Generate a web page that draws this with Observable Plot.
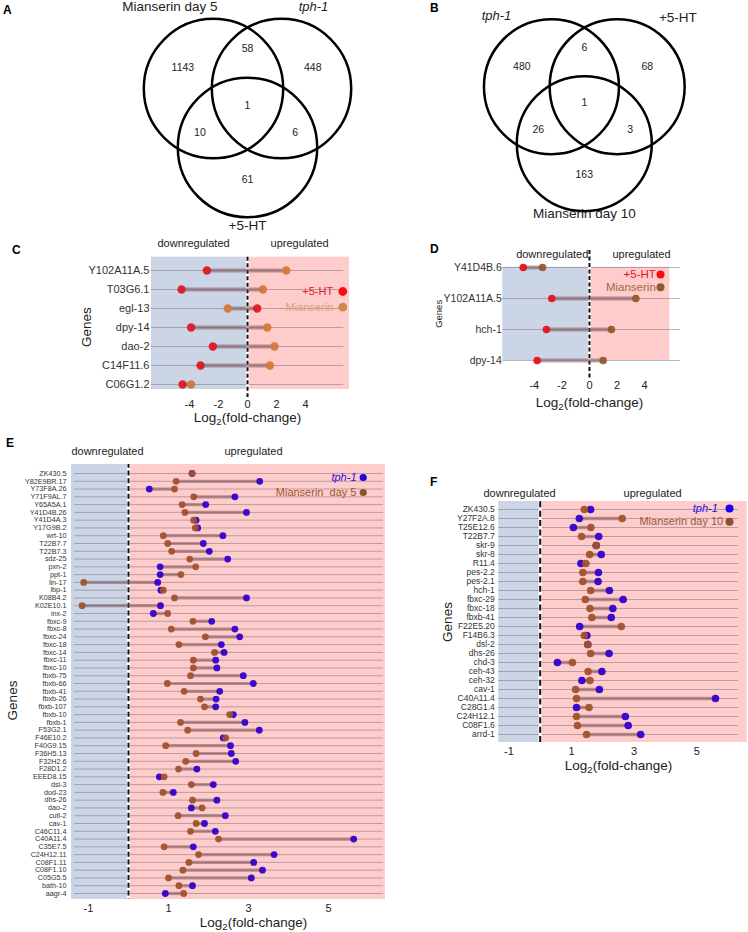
<!DOCTYPE html>
<html>
<head>
<meta charset="utf-8">
<script src="https://cdn.jsdelivr.net/npm/d3@7"></script>
<script src="https://cdn.jsdelivr.net/npm/@observablehq/plot@0.6"></script>
<style>
html,body{margin:0;padding:0;background:#fff;}
#fig{position:relative;width:748px;height:932px;overflow:hidden;background:#fff;}
#fig svg{position:absolute;overflow:visible;}
.letter{position:absolute;font-family:"Liberation Sans",Arial,sans-serif;font-weight:bold;font-size:12px;line-height:12px;color:#000;}
</style>
</head>
<body>
<div id="fig"></div>
<script>
// ---------------- DATA ----------------
// Venn A (regions: only1, 1&2, only2, all, 1&3, 2&3, only3)
const vennASets = ["Mianserin day 5", "tph-1", "+5-HT"];
const vennACounts = [1143, 58, 448, 1, 10, 6, 61];
// Venn B
const vennBSets = ["tph-1", "+5-HT", "Mianserin day 10"];
const vennBCounts = [480, 6, 68, 1, 26, 3, 163];

// Panel C
const genesC = ["Y102A11A.5", "T03G6.1", "egl-13", "dpy-14", "dao-2", "C14F11.6", "C06G1.2"];
const htC    = [-2.80, -4.55, 0.67, -3.89, -2.39, -3.24, -4.48];
const mianC  = [2.67, 1.06, -1.36, 1.36, 1.86, 1.54, -3.89];
const ticksC = [-4, -2, 0, 2, 4];

// Panel D
const genesD = ["Y41D4B.6", "Y102A11A.5", "hch-1", "dpy-14"];
const htD    = [-4.80, -2.73, -3.12, -3.79];
const mianD  = [-3.40, 3.36, 1.59, 0.99];
const ticksD = [-4, -2, 0, 2, 4];

// Panel E
const genesE = ["ZK430.5","Y82E9BR.17","Y73F8A.26","Y71F9AL.7","Y65A5A.1","Y41D4B.26","Y41D4A.3","Y17G9B.2","wrt-10","T22B7.7","T22B7.3","sdz-25","pxn-2","ppt-1","lin-17","lbp-1","K08B4.2","K02E10.1","inx-2","fbxc-9","fbxc-8","fbxc-24","fbxc-18","fbxc-14","fbxc-11","fbxc-10","fbxb-75","fbxb-66","fbxb-41","fbxb-26","fbxb-107","fbxb-10","fbxb-1","F53G2.1","F46E10.2","F40G9.15","F36H5.13","F32H2.6","F28D1.2","EEED8.15","dsl-3","dod-23","dhs-26","dao-2","cutl-2","cav-1","C46C11.4","C40A11.4","C35E7.5","C24H12.11","C08F1.11","C08F1.10","C05G5.5","bath-10","aagr-4"];
const tphE  = [1.59,3.28,0.52,2.66,1.93,2.95,1.69,1.73,2.36,1.87,2.02,2.48,0.79,0.79,0.73,0.81,2.95,0.80,0.62,2.08,2.66,2.78,2.32,2.39,2.18,2.21,2.87,3.12,2.28,2.19,2.18,2.62,2.91,3.27,2.37,2.55,2.57,2.68,1.71,0.77,2.12,1.12,2.21,1.57,2.42,1.90,2.17,5.63,1.62,3.64,3.13,3.35,3.07,1.60,0.92];
const mianE = [1.59,1.19,1.15,1.63,1.34,1.41,1.63,1.67,0.87,0.98,1.08,1.53,1.68,1.31,-1.12,0.87,1.15,-1.16,0.98,1.61,1.07,1.92,1.26,2.15,1.62,1.62,1.55,0.97,1.39,1.80,1.90,2.53,1.30,1.48,2.43,0.93,1.69,1.43,1.25,0.89,1.57,0.86,1.60,1.84,1.24,1.69,1.55,2.25,0.89,1.75,1.51,1.36,1.00,1.26,1.38];
const ticksE = [-1, 1, 3, 5];

// Panel F
const genesF = ["ZK430.5","Y27F2A.8","T25E12.6","T22B7.7","skr-9","skr-8","R11.4","pes-2.2","pes-2.1","hch-1","fbxc-29","fbxc-18","fbxb-41","F22E5.20","F14B6.3","dsl-2","dhs-26","chd-3","ceh-43","ceh-32","cav-1","C40A11.4","C28G1.4","C24H12.1","C08F1.6","arrd-1"];
const tphF  = [1.61,1.25,1.06,1.87,1.79,1.95,1.30,1.86,1.85,2.21,2.65,2.32,2.27,1.26,1.49,1.52,2.20,0.55,1.97,1.33,1.89,5.60,1.16,2.72,2.81,3.21];
const mianF = [1.41,2.62,1.62,1.32,1.79,1.58,1.46,1.36,1.36,1.61,1.44,1.59,1.65,2.59,1.41,1.52,1.61,1.03,1.53,1.59,1.13,1.16,1.56,1.16,1.19,1.48];
const ticksF = [-1, 1, 3, 5];

// ---------------- STYLE ----------------
const FONT = "'Liberation Sans', Arial, Helvetica, sans-serif";
const NARROW = "'Liberation Sans Narrow', 'Arial Narrow', 'Liberation Sans', sans-serif";
const BLUE_BG = "#ccd5e6";
const PINK_BG = "#ffcccc";
const fig = document.getElementById("fig");

function place(node, left, top) {
  node.style.left = left + "px";
  node.style.top = top + "px";
  fig.appendChild(node);
}

function fixSubscript(svg) {
  svg.querySelectorAll("text").forEach(t => {
    if (t.textContent === "Log2(fold-change)") {
      t.textContent = "";
      t.appendChild(document.createTextNode("Log"));
      const ns = "http://www.w3.org/2000/svg";
      const s = document.createElementNS(ns, "tspan");
      s.setAttribute("dy", "3"); s.setAttribute("font-size", "9.5"); s.textContent = "2";
      const r = document.createElementNS(ns, "tspan");
      r.setAttribute("dy", "-3"); r.textContent = "(fold-change)";
      t.appendChild(s); t.appendChild(r);
    }
  });
}

// Venn region anchors in units of the centre spacing, relative to centroid
const REGION_ANCHORS = [[-0.95,-0.60],[0,-0.88],[0.96,-0.60],[0,-0.04],[-0.70,0.36],[0.70,0.36],[0,1.05]];

function venn(v) {
  const h = v.s / (2 * Math.sqrt(3));
  const circles = [
    {x: v.cx - v.s / 2, y: v.cy - h},
    {x: v.cx + v.s / 2, y: v.cy - h},
    {x: v.cx, y: v.cy + 2 * h}
  ];
  const regions = REGION_ANCHORS.map((o, i) => ({x: v.cx + o[0] * v.s, y: v.cy + o[1] * v.s, n: v.counts[i]}));
  const labels = circles.map((c, i) => ({x: c.x + v.labelOff[i][0], y: c.y + v.labelOff[i][1], name: v.sets[i], italic: v.italic[i]}));
  const svg = Plot.plot({
    width: v.width, height: v.height, margin: 0,
    x: {type: "identity", axis: null}, y: {type: "identity", axis: null},
    style: {fontFamily: FONT, fontSize: "11px", background: "transparent", overflow: "visible"},
    marks: [
      Plot.dot(circles, {x: "x", y: "y", r: v.r, stroke: "#000", strokeWidth: 2.5, fill: "none"}),
      Plot.text(regions, {x: "x", y: "y", text: d => String(d.n), fontSize: 10.5, fill: "#222"}),
      Plot.text(labels.filter(d => !d.italic), {x: "x", y: "y", text: "name", fontSize: 13.5, fill: "#222"}),
      Plot.text(labels.filter(d => d.italic), {x: "x", y: "y", text: "name", fontSize: 13, fontStyle: "italic", fill: "#222"})
    ]
  });
  place(svg, v.left, v.top);
}

function dumbbell(c) {
  const rows = c.genes.map((g, i) => ({gene: g, a: c.a[i], b: c.b[i]}));
  const [x0, x1] = c.xDomain;
  const legendMarks = c.legend.flatMap(L => [
    Plot.dot([L], {x: null, y: null, frameAnchor: "top-right", dx: L.dx, dy: L.dy, r: c.r + 0.2, fill: L.dot}),
    Plot.text([L], {x: null, y: null, frameAnchor: "top-right", dx: L.tdx, dy: L.dy, text: d => d.text,
      textAnchor: "end", lineAnchor: "middle",
      fill: L.fill, fontSize: c.legendSize, fontStyle: L.italic ? "italic" : "normal"})
  ]);
  const svg = Plot.plot({
    width: c.width, height: c.height,
    marginTop: c.m[0], marginRight: c.m[1], marginBottom: c.m[2], marginLeft: c.m[3],
    x: {domain: c.xDomain, ticks: c.ticks, tickSize: 0, tickPadding: c.tickPad, tickFormat: d => String(d), label: null},
    y: {type: "point", domain: c.genes, range: c.rowRange, padding: 0, axis: null},
    style: {fontFamily: FONT, fontSize: c.tickSize + "px", color: "#222", background: "transparent", overflow: "visible"},
    marks: [
      Plot.rect([{lo: x0, hi: 0}], {x1: "lo", x2: "hi", fill: BLUE_BG}),
      Plot.rect([{lo: 0, hi: x1}], {x1: "lo", x2: "hi", fill: PINK_BG}),
      Plot.ruleY(c.genes, {y: d => d, x1: () => c.gridX[0], x2: () => c.gridX[1], stroke: "#707080", strokeOpacity: 0.5, strokeWidth: 1}),
      Plot.ruleX([0], {x: d => d, stroke: "#fff", strokeWidth: 3.2, insetTop: c.zeroInset[0], insetBottom: c.zeroInset[1]}),
      Plot.ruleX([0], {x: d => d, stroke: "#111", strokeWidth: 2, strokeDasharray: c.dash, strokeDashoffset: c.dashOffset || 0,
        insetTop: c.zeroInset[0], insetBottom: c.zeroInset[1]}),
      Plot.ruleY(rows, {y: "gene", x1: "a", x2: "b", stroke: "#764a50", strokeOpacity: 0.5, strokeWidth: c.segWidth}),
      Plot.dot(rows, {x: "a", y: "gene", r: c.r, fill: c.colorA, fillOpacity: 0.95}),
      Plot.dot(rows, {x: "b", y: "gene", r: c.r, fill: c.colorB, fillOpacity: 0.95}),
      Plot.text(c.genes, {x: null, y: d => d, text: d => d, frameAnchor: "left", dx: c.geneDx, textAnchor: "end", lineAnchor: "middle",
        fontSize: c.geneSize, fontFamily: c.geneFamily, fill: "#333"}),
      Plot.text(["downregulated", "upregulated"], {x: (d, i) => c.headerX[i], y: null, text: d => d, frameAnchor: "top",
        textAnchor: "middle", lineAnchor: "middle", dy: c.headerDy, fontSize: 11, fill: "#222"}),
      Plot.text(["Log2(fold-change)"], {x: null, y: null, text: d => d, frameAnchor: "bottom", textAnchor: "middle", lineAnchor: "middle",
        dx: c.axisLabel[0], dy: c.axisLabel[1], fontSize: 13.5, fill: "#222"}),
      Plot.text(["Genes"], {x: null, y: null, text: d => d, frameAnchor: "left", textAnchor: "middle", lineAnchor: "middle", rotate: -90,
        dx: c.genesLabel[0], dy: c.genesLabel[1], fontSize: c.genesLabel[2], fill: "#222"}),
      ...legendMarks
    ]
  });
  fixSubscript(svg);
  place(svg, c.left, c.top);
}

// ---------------- PANELS ----------------
venn({left: 0, top: 0, width: 370, height: 230, cx: 247, cy: 107.7, s: 68, r: 69.7,
  sets: vennASets, counts: vennACounts, italic: [false, true, false],
  labelOff: [[-43.7, -81.4], [32, -81.4], [0, 78]]});

venn({left: 370, top: 0, width: 378, height: 230, cx: 213.8, cy: 105.2, s: 65.7, r: 67.5,
  sets: vennBSets, counts: vennBCounts, italic: [true, false, false],
  labelOff: [[-55, -71.2], [60.7, -69.5], [0, 69.6]]});

dumbbell({left: 0, top: 230, width: 370, height: 200, m: [26.7, 21, 41, 151],
  xDomain: [-6.62, 7.03], rowRange: [38.7, 156], gridX: [-6.62, 6.64],
  genes: genesC, a: htC, b: mianC, colorA: "#dc1a24", colorB: "#d4783a",
  headerX: [-3.72, 3.59], headerDy: -13.7, ticks: ticksC, tickPad: 11, tickSize: 11,
  axisLabel: [-3, 27.7], genesLabel: [-65, 3.85, 13.5], geneDx: -2, geneSize: 11, geneFamily: FONT,
  zeroInset: [0, -8], dash: "4,2.5", r: 4.2, segWidth: 4, legendSize: 11,
  legend: [
    {text: "+5-HT", fill: "#e8141c", dot: "#ff0d0d", dx: -6.7, dy: 34.3, tdx: -16.3},
    {text: "Mianserin", fill: "#d9a36e", dot: "#c98c4a", dx: -6.7, dy: 50, tdx: -16.3}
  ]});

dumbbell({left: 370, top: 230, width: 378, height: 200, m: [36.7, 78.7, 70, 132.3],
  xDomain: [-6.28, 5.82], rowRange: [36.7, 130.7], gridX: [-6.28, 6.6],
  genes: genesD, a: htD, b: mianD, colorA: "#e3141e", colorB: "#93592b",
  headerX: [-2.7, 3.77], headerDy: -12.7, ticks: ticksD, tickPad: 21, tickSize: 11,
  axisLabel: [3.2, 42], genesLabel: [-64, 0, 9.5], geneDx: -1, geneSize: 10.5, geneFamily: FONT,
  zeroInset: [-16.7, -20], dash: "4,2.5", r: 3.8, segWidth: 4, legendSize: 11.5,
  legend: [
    {text: "+5-HT", fill: "#e8101c", dot: "#f20d0d", dx: -9.3, dy: 7.3, tdx: -14},
    {text: "Mianserin", fill: "#9b6a48", dot: "#8e5a2c", dx: -9.3, dy: 20, tdx: -14}
  ]});

dumbbell({left: 0, top: 430, width: 400, height: 502, m: [34, 15, 33, 71],
  xDomain: [-1.425, 6.425], rowRange: [43, 463], gridX: [-1.35, 6.375],
  genes: genesE, a: tphE, b: mianE, colorA: "#3300cc", colorB: "#a0522d",
  headerX: [-0.525, 3.125], headerDy: -13, ticks: ticksE, tickPad: 5, tickSize: 11,
  axisLabel: [25, 23], genesLabel: [-59, 18.5, 13.5], geneDx: -5, geneSize: 7.2, geneFamily: NARROW,
  zeroInset: [0, 0], dash: "5,2.78", dashOffset: 1.28, r: 3.4, segWidth: 3.2, legendSize: 11,
  legend: [
    {text: "tph-1", italic: true, fill: "#2b12d6", dot: "#2400d8", dx: -22.3, dy: 13, tdx: -29},
    {text: "Mianserin\u00a0 day 5", fill: "#9a5a32", dot: "#8c5128", dx: -22.3, dy: 28, tdx: -29}
  ]});

dumbbell({left: 400, top: 470, width: 348, height: 310, m: [31, 1.3, 38, 98.3],
  xDomain: [-1.323, 6.613], rowRange: [34.3, 269], gridX: [-1.33, 6.34],
  genes: genesF, a: tphF, b: mianF, colorA: "#3300cc", colorB: "#a0522d",
  headerX: [-0.66, 3.59], headerDy: -8.3, ticks: ticksF, tickPad: 5, tickSize: 11,
  axisLabel: [-4.5, 23], genesLabel: [-51.6, 0, 13.5], geneDx: -4, geneSize: 8.5, geneFamily: NARROW,
  zeroInset: [0, 0], dash: "6,3.39", dashOffset: 9.09, r: 3.8, segWidth: 3.5, legendSize: 11,
  legend: [
    {text: "tph-1", italic: true, fill: "#1d0ee6", dot: "#1a00f0", dx: -17.7, dy: 7, tdx: -29.4},
    {text: "Mianserin day 10", fill: "#9a5a32", dot: "#8c5128", dx: -17.7, dy: 20.3, tdx: -24}
  ]});

// panel letters
[["A", 3, 4], ["B", 430, 1.5], ["C", 12, 243.5], ["D", 430, 242.5], ["E", 6, 436.5], ["F", 430, 475.5]].forEach(([t, x, y]) => {
  const d = document.createElement("div");
  d.className = "letter"; d.textContent = t;
  d.style.left = x + "px"; d.style.top = y + "px";
  fig.appendChild(d);
});
</script>
</body>
</html>
